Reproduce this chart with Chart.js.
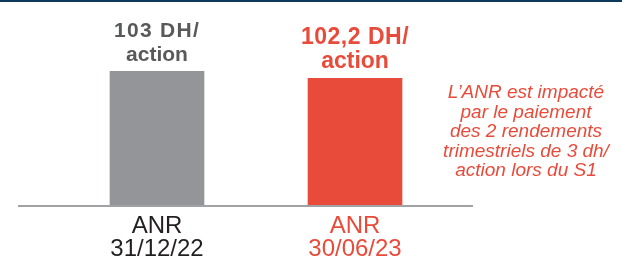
<!DOCTYPE html>
<html>
<head>
<meta charset="utf-8">
<script src="https://cdn.jsdelivr.net/npm/chart.js@4"></script>
<style>
  html, body { margin: 0; padding: 0; background: #fff; }
  .wrap { position: relative; width: 622px; height: 262px; }
  .topline { position: absolute; left: 0; top: 0; width: 622px; height: 2px; background: #0b3a5c; }
</style>
</head>
<body>
<div class="wrap">
  <div class="topline"></div>
  <canvas id="ctx" width="622" height="262"></canvas>
</div>
<script>
// chart values
const categories = [["ANR", "31/12/22"], ["ANR", "30/06/23"]];
const anrValues = [103, 102.2];
const valueLabels = [["103 DH/", "action"], ["102,2 DH/", "action"]];
const noteLines = [
  "L\u2019ANR est impact\u00e9",
  "par le paiement",
  "des 2 rendements",
  "trimestriels de 3 dh/",
  "action lors du S1",
];

const GREY = "#939598";
const RED = "#e94b3b";
const labelColors = ["#58595b", RED];
const labelSizes = [21, 23];
const labelSpacing = [1.3, 0.5];

// baseline + value labels + side note
const extras = {
  id: "extras",
  afterDatasetsDraw(chart) {
    const { ctx, chartArea } = chart;
    ctx.save();
    // axis line, longer than the chart area
    ctx.strokeStyle = "#a0a2a5";
    ctx.lineWidth = 2;
    ctx.beginPath();
    ctx.moveTo(18, chartArea.bottom);
    ctx.lineTo(473, chartArea.bottom);
    ctx.stroke();

    // labels over the bars
    const meta = chart.getDatasetMeta(0);
    meta.data.forEach((bar, i) => {
      const lines = valueLabels[i];
      ctx.font = "bold " + labelSizes[i] + "px 'Liberation Sans', Arial, sans-serif";
      ctx.fillStyle = labelColors[i];
      ctx.textAlign = "center";
      ctx.textBaseline = "alphabetic";
      for (let k = 0; k < lines.length; k++) {
        ctx.letterSpacing = k === 0 ? labelSpacing[i] + "px" : "0px";
        const y = bar.y - 10 - (lines.length - 1 - k) * 24;
        ctx.fillText(lines[k], bar.x, y);
      }
    });
    ctx.letterSpacing = "0px";

    // note on the right
    ctx.font = "italic 19px 'Liberation Sans', Arial, sans-serif";
    ctx.fillStyle = RED;
    ctx.textAlign = "center";
    noteLines.forEach((t, k) => {
      ctx.fillText(t, 526, 98 + k * 19.5);
    });
    ctx.restore();
  },
};

new Chart(document.getElementById("ctx"), {
  type: "bar",
  data: {
    labels: categories,
    datasets: [
      {
        data: anrValues,
        backgroundColor: [GREY, RED],
        borderWidth: 0,
        barThickness: 94,
      },
    ],
  },
  options: {
    responsive: false,
    animation: false,
    layout: { padding: { left: 58, right: 168, top: 10, bottom: 0 } },
    plugins: { legend: { display: false }, tooltip: { enabled: false } },
    scales: {
      y: { display: false, min: 87.6, max: 110 },
      x: {
        grid: { display: false, drawTicks: false },
        border: { display: false },
        afterFit: (scale) => {
          scale.height = 56;
        },
        ticks: {
          padding: 9,
          maxRotation: 0,
          autoSkip: false,
          font: { family: "'Liberation Sans', Arial, sans-serif", size: 24, lineHeight: "23px" },
          color: (c) => (c.index === 0 ? "#231f20" : RED),
        },
      },
    },
  },
  plugins: [extras],
});
</script>
</body>
</html>
